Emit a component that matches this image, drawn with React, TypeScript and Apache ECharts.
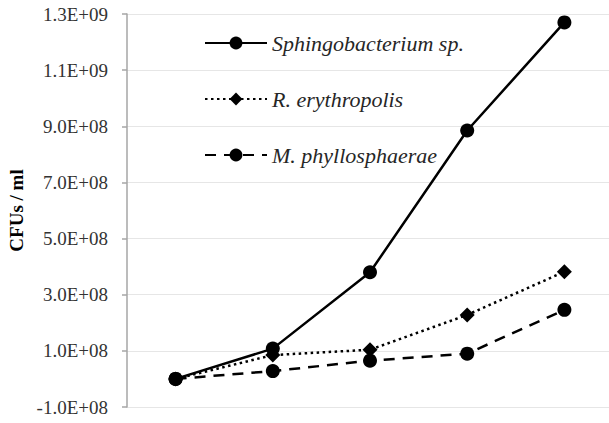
import React, { useEffect, useRef } from "react";
import * as echarts from "echarts";

const categories = ["1", "2", "3", "4", "5"];
const sphingoValues = [0, 1.08e8, 3.8e8, 8.85e8, 1.27e9];
const rhodoValues = [0, 8.5e7, 1.04e8, 2.28e8, 3.82e8];
const methyloValues = [0, 2.8e7, 6.5e7, 9.0e7, 2.46e8];
const seriesNames = ["Sphingobacterium sp.", "R. erythropolis", "M. phyllosphaerae"];
const yMin = -1.0e8;
const yMax = 1.3e9;
const yStep = 2.0e8;

function sci(v: number): string {
  const s = v.toExponential(1).toUpperCase();
  const m = s.match(/^(-?[\d.]+)E([+-])(\d+)$/);
  if (!m) return s;
  const exp = m[3].length < 2 ? "0" + m[3] : m[3];
  return `${m[1]}E${m[2]}${exp}`;
}

export default function App() {
  const ref = useRef<HTMLDivElement>(null);
  useEffect(() => {
    if (!ref.current) return;
    const chart = echarts.init(ref.current, null, { renderer: "svg" });
    const font = "Liberation Serif";
    chart.setOption({
      animation: false,
      backgroundColor: "#ffffff",
      textStyle: { fontFamily: font },
      grid: {
        left: 127,
        right: -4,
        top: 14,
        bottom: 16,
        containLabel: false,
        outerBoundsMode: "none",
      },
      legend: {
        orient: "vertical",
        left: 204,
        top: 32,
        padding: 0,
        itemWidth: 62,
        itemHeight: 16,
        itemGap: 34,
        data: seriesNames,
        textStyle: {
          fontFamily: font,
          fontStyle: "italic",
          fontSize: 22,
          color: "#262626",
        },
      },
      xAxis: {
        type: "category",
        data: categories,
        boundaryGap: true,
        axisLine: { show: false },
        axisTick: { show: false },
        axisLabel: { show: false },
        splitLine: { show: false },
      },
      yAxis: {
        type: "value",
        min: yMin,
        max: yMax,
        interval: yStep,
        name: "CFUs / ml",
        nameLocation: "middle",
        nameRotate: 90,
        nameGap: 101,
        nameTextStyle: {
          fontFamily: font,
          fontWeight: "bold",
          fontSize: 19,
          color: "#000000",
        },
        axisLine: { show: true, lineStyle: { color: "#a6a6a6", width: 1.5 } },
        axisTick: { show: true, length: 5, lineStyle: { color: "#a6a6a6", width: 1.5 } },
        axisLabel: {
          margin: 19,
          fontFamily: font,
          fontSize: 19,
          color: "#333333",
          formatter: (v: number) => sci(v),
        },
        splitLine: { show: true, lineStyle: { color: "#e6e6e6", width: 1 } },
      },
      series: [
        {
          name: seriesNames[0],
          type: "line",
          data: sphingoValues,
          symbol: "circle",
          symbolSize: 14,
          z: 5,
          itemStyle: { color: "#000000" },
          lineStyle: { color: "#000000", width: 2.5, type: "solid" },
        },
        {
          name: seriesNames[1],
          type: "line",
          data: rhodoValues,
          symbol: "diamond",
          symbolSize: 15,
          z: 3,
          itemStyle: { color: "#000000" },
          lineStyle: { color: "#000000", width: 2.5, type: [2.5, 3.5], cap: "butt" },
        },
        {
          name: seriesNames[2],
          type: "line",
          data: methyloValues,
          symbol: "circle",
          symbolSize: 14,
          z: 4,
          itemStyle: { color: "#000000" },
          lineStyle: { color: "#000000", width: 2.5, type: [11, 8] },
        },
      ],
    });
    return () => chart.dispose();
  }, []);
  return (
    <div
      ref={ref}
      style={{ position: "fixed", left: 0, top: 0, width: 609, height: 423 }}
    />
  );
}
